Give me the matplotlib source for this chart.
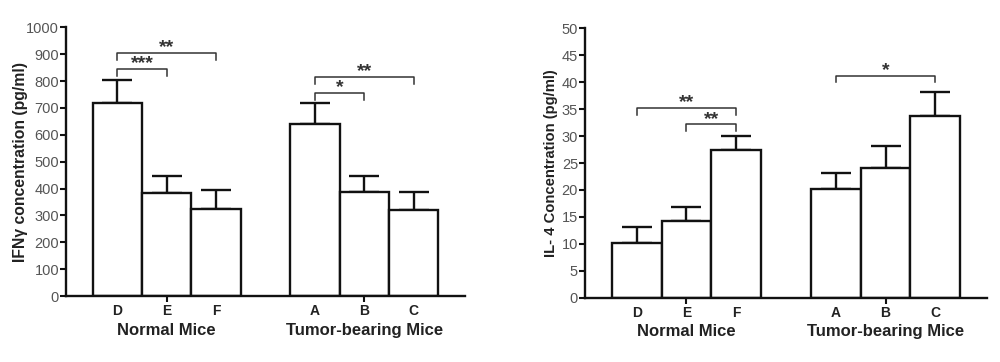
import matplotlib
matplotlib.use("Agg")
import matplotlib.pyplot as plt
import numpy as np

plt.rcParams['font.family'] = ['Liberation Sans', 'DejaVu Sans']

categories = ['D', 'E', 'F', 'A', 'B', 'C']
group_names = ['Normal Mice', 'Tumor-bearing Mice']

ifn_means = [720, 383, 325, 640, 388, 320]
ifn_errs = [85, 63, 70, 80, 57, 67]
il4_means = [10.1, 14.2, 27.4, 20.2, 24.1, 33.8]
il4_errs = [3.0, 2.6, 2.6, 2.9, 4.0, 4.4]

# (index_from, index_to, label, height)
ifn_sig = [(0, 2, '**', 905), (0, 1, '***', 845), (3, 5, '**', 815), (3, 4, '*', 757)]
il4_sig = [(0, 2, '**', 35.2), (1, 2, '**', 32.2), (3, 5, '*', 41.2)]

xpos = np.array([0, 1, 2, 4, 5, 6], dtype=float)

fig = plt.figure(figsize=(10, 3.62), dpi=100)
ax1 = fig.add_axes([0.066, 0.1823, 0.399, 0.7423])
ax2 = fig.add_axes([0.585, 0.1776, 0.402, 0.7442])

LW = 1.7
dark = '#111111'
tickc = '#555555'


def panel(ax, means, errs, sig, ymax, ystep, ylabel, ylsize, drop, star_off):
    ax.bar(xpos, means, width=1.0, color='white', edgecolor=dark, linewidth=LW, zorder=2)
    ax.errorbar(xpos, means, yerr=[np.zeros(len(errs)), errs], fmt='none',
                ecolor=dark, elinewidth=LW, capsize=11, capthick=LW, zorder=1)
    ax.set_xlim(-1.04, 7.04)
    ax.set_ylim(0, ymax)
    ax.set_yticks(np.arange(0, ymax + ystep / 2, ystep))
    for s in ['top', 'right']:
        ax.spines[s].set_visible(False)
    for s in ['left', 'bottom']:
        ax.spines[s].set_linewidth(LW)
        ax.spines[s].set_color(dark)
    ax.tick_params(axis='y', direction='out', length=4, width=1.5, color=dark,
                   labelsize=10.5, labelcolor=tickc, pad=1)
    ax.tick_params(axis='x', direction='out', length=4, width=1.5, color=dark,
                   labelsize=10, pad=2)
    ax.set_xticks(xpos)
    ax.set_xticklabels(categories, fontweight='bold', color='#222222')
    for i, t in enumerate(ax.xaxis.get_major_ticks()):
        t.tick1line.set_visible(i in (1, 4))
    ax.set_ylabel(ylabel, fontsize=ylsize, fontweight='bold', color='#222222')
    for gx, name in zip([1, 5], group_names):
        ax.annotate(name, xy=(gx, 0), xycoords=('data', 'axes fraction'),
                    xytext=(0, -34), textcoords='offset pixels',
                    ha='center', va='center', fontsize=12, fontweight='bold',
                    color='#222222')
    for a, b, lab, h in sig:
        xa, xb = xpos[a], xpos[b]
        ax.plot([xa, xa, xb, xb], [h - drop, h, h, h - drop], color='#333333',
                lw=1.1, clip_on=False)
        ax.annotate(lab, xy=((xa + xb) / 2, h), xytext=(0, star_off),
                    textcoords='offset pixels', ha='center', va='center',
                    fontsize=14, fontweight='bold', color='#333333')


panel(ax1, ifn_means, ifn_errs, ifn_sig, 1000, 100,
      'IFN\u03b3 concentration (pg/ml)', 11.3, 26, 5)
panel(ax2, il4_means, il4_errs, il4_sig, 50, 5,
      'IL- 4 Concentration (pg/ml)', 10.6, 1.25, 5)

ax1.yaxis.set_label_coords(-0.095, 0.5)
ax2.yaxis.set_label_coords(-0.067, 0.5)

fig.savefig('out.png', dpi=100)
